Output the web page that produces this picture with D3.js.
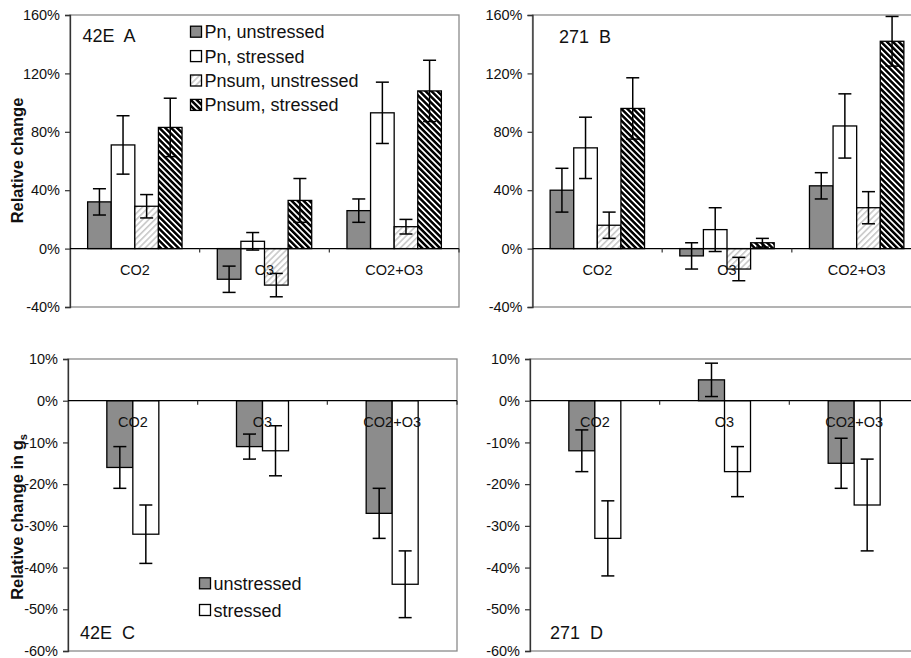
<!DOCTYPE html>
<html>
<head>
<meta charset="utf-8">
<script src="https://cdn.jsdelivr.net/npm/d3@7"></script>
<style>
  body { margin: 0; background: #fff; }
  svg { display: block; font-family: "Liberation Sans", Arial, sans-serif; }
</style>
</head>
<body>
<svg id="chart" width="911" height="658"></svg>
<script>
// categories / series
const categories = ["CO2", "O3", "CO2+O3"];
const seriesTop = ["Pn, unstressed", "Pn, stressed", "Pnsum, unstressed", "Pnsum, stressed"];
const seriesBottom = ["unstressed", "stressed"];

// tick values
const ticksTop = [-40, 0, 40, 80, 120, 160];
const ticksBottom = [-60, -50, -40, -30, -20, -10, 0, 10];

// panel A (42E) relative change, rows = categories, cols = series
const meanA = [[32, 71, 29, 83], [-21, 5, -25, 33], [26, 93, 15, 108]];
const errA  = [[9, 20, 8, 20], [9, 6, 8, 15], [8, 21, 5, 21]];
// panel B (271)
const meanB = [[40, 69, 16, 96], [-5, 13, -14, 4], [43, 84, 28, 142]];
const errB  = [[15, 21, 9, 21], [9, 15, 8, 3], [9, 22, 11, 17]];
// panel C (42E) relative change in gs
const meanC = [[-16, -32], [-11, -12], [-27, -44]];
const errC  = [[5, 7], [3, 6], [6, 8]];
// panel D (271)
const meanD = [[-12, -33], [5, -17], [-15, -25]];
const errD  = [[5, 9], [4, 6], [6, 11]];

const svg = d3.select("#chart");
const defs = svg.append("defs");

// hatch fills
const light = defs.append("pattern")
    .attr("id", "hatch-light")
    .attr("patternUnits", "userSpaceOnUse")
    .attr("width", 4.4).attr("height", 4.4)
    .attr("patternTransform", "rotate(45)");
light.append("rect").attr("width", 4.4).attr("height", 4.4).attr("fill", "#fff");
light.append("rect").attr("width", 1.6).attr("height", 4.4).attr("fill", "#c8c8c8");

const dark = defs.append("pattern")
    .attr("id", "hatch-dark")
    .attr("patternUnits", "userSpaceOnUse")
    .attr("width", 4.2).attr("height", 4.2)
    .attr("patternTransform", "rotate(-45)");
dark.append("rect").attr("width", 4.2).attr("height", 4.2).attr("fill", "#fff");
dark.append("rect").attr("width", 2.5).attr("height", 4.2).attr("fill", "#000");

const fillsTop = ["#8c8c8c", "#fff", "url(#hatch-light)", "url(#hatch-dark)"];
const fillsBottom = ["#8c8c8c", "#fff"];

function drawPanel(p) {
    const g = svg.append("g");
    const x0 = d3.scaleBand().domain(categories).range([p.left, p.right]);
    const groupW = p.barW * p.series.length;
    const x1 = d3.scaleBand().domain(p.series)
        .range([(x0.bandwidth() - groupW) / 2, (x0.bandwidth() + groupW) / 2]);
    const y = d3.scaleLinear().domain(p.domain).range([p.bottom, p.top]);

    // plot area border
    g.append("rect")
        .attr("x", p.left).attr("y", p.top)
        .attr("width", p.right - p.left).attr("height", p.bottom - p.top)
        .attr("fill", "none").attr("stroke", "#8a8a8a").attr("stroke-width", 1.3);

    // value axis
    const yAxis = g.append("g")
        .attr("transform", `translate(${p.left},0)`)
        .call(d3.axisLeft(y).tickValues(p.ticks).tickSize(5).tickPadding(5)
            .tickFormat(d => d + "%"));
    yAxis.select(".domain").attr("stroke", "#333").attr("stroke-width", 1.3);
    yAxis.selectAll(".tick line").attr("stroke", "#333").attr("stroke-width", 1.2);
    yAxis.selectAll("text")
        .style("font-family", "Liberation Sans, Arial, sans-serif")
        .style("font-size", "14.5px").attr("fill", "#111");

    // bars
    categories.forEach((c, ci) => {
        p.series.forEach((s, si) => {
            const v = p.mean[ci][si];
            const e = p.err[ci][si];
            const bx = x0(c) + x1(s);
            g.append("rect")
                .attr("x", bx).attr("width", x1.bandwidth())
                .attr("y", y(Math.max(0, v)))
                .attr("height", Math.abs(y(v) - y(0)))
                .attr("fill", p.fills[si])
                .attr("stroke", "#000").attr("stroke-width", 1.3);
            const cx = bx + x1.bandwidth() / 2;
            g.append("line")
                .attr("x1", cx).attr("x2", cx)
                .attr("y1", y(v + e)).attr("y2", y(v - e))
                .attr("stroke", "#000").attr("stroke-width", 1.5);
            [v + e, v - e].forEach(t => {
                g.append("line")
                    .attr("x1", cx - 6.5).attr("x2", cx + 6.5)
                    .attr("y1", y(t)).attr("y2", y(t))
                    .attr("stroke", "#000").attr("stroke-width", 1.5);
            });
        });
    });

    // category axis through zero
    g.append("line")
        .attr("x1", p.left).attr("x2", p.right)
        .attr("y1", y(0)).attr("y2", y(0))
        .attr("stroke", "#000").attr("stroke-width", 1.2);
    categories.slice(1).concat([null]).forEach(c => {
        const tx = c ? x0(c) : p.right;
        g.append("line")
            .attr("x1", tx).attr("x2", tx)
            .attr("y1", y(0)).attr("y2", y(0) + 4)
            .attr("stroke", "#333").attr("stroke-width", 1.2);
    });
    g.selectAll(".cat").data(categories).enter().append("text")
        .attr("x", d => x0(d) + x0.bandwidth() / 2)
        .attr("y", y(0) + 26.5)
        .attr("text-anchor", "middle")
        .style("font-size", "14.5px").attr("fill", "#111")
        .text(d => d);

    // panel label
    g.append("text")
        .attr("x", p.labelX).attr("y", p.labelY)
        .style("font-size", "18px").style("white-space", "pre").attr("fill", "#111")
        .text(p.label);

    return g;
}

drawPanel({ left: 70, right: 459, top: 15, bottom: 307, domain: [-40, 160], ticks: ticksTop,
    series: seriesTop, barW: 23.6, mean: meanA, err: errA, fills: fillsTop,
    label: "42E  A", labelX: 82.5, labelY: 42 });
drawPanel({ left: 532.5, right: 921.5, top: 15, bottom: 307, domain: [-40, 160], ticks: ticksTop,
    series: seriesTop, barW: 23.6, mean: meanB, err: errB, fills: fillsTop,
    label: "271  B", labelX: 559, labelY: 43 });
drawPanel({ left: 68, right: 457, top: 359, bottom: 651, domain: [-60, 10], ticks: ticksBottom,
    series: seriesBottom, barW: 26, mean: meanC, err: errC, fills: fillsBottom,
    label: "42E  C", labelX: 80, labelY: 639 });
drawPanel({ left: 530, right: 919, top: 359, bottom: 651, domain: [-60, 10], ticks: ticksBottom,
    series: seriesBottom, barW: 26, mean: meanD, err: errD, fills: fillsBottom,
    label: "271  D", labelX: 550, labelY: 639 });

// y titles
svg.append("text")
    .attr("transform", "translate(22.5,160.5) rotate(-90)")
    .attr("text-anchor", "middle")
    .style("font-size", "16.5px").style("font-weight", "bold").attr("fill", "#111")
    .text("Relative change");
const t2 = svg.append("text")
    .attr("transform", "translate(22.5,517) rotate(-90)")
    .attr("text-anchor", "middle")
    .style("font-size", "16.5px").style("font-weight", "bold").attr("fill", "#111");
t2.append("tspan").text("Relative change in g");
t2.append("tspan").attr("dy", 4).style("font-size", "11px").text("s");

// legends
function drawLegend(items, fills, x, y0, step) {
    const lg = svg.append("g");
    items.forEach((s, i) => {
        const cy = y0 + i * step;
        lg.append("rect")
            .attr("x", x).attr("y", cy - 5.5).attr("width", 11).attr("height", 11)
            .attr("fill", fills[i]).attr("stroke", "#000").attr("stroke-width", 1.3);
        lg.append("text")
            .attr("x", x + 14).attr("y", cy + 6.5)
            .style("font-size", "18px").attr("fill", "#111")
            .text(s);
    });
}
drawLegend(seriesTop, fillsTop, 190.5, 31.7, 24.4);
drawLegend(seriesBottom, fillsBottom, 199.5, 583.3, 26.7);
</script>
</body>
</html>
